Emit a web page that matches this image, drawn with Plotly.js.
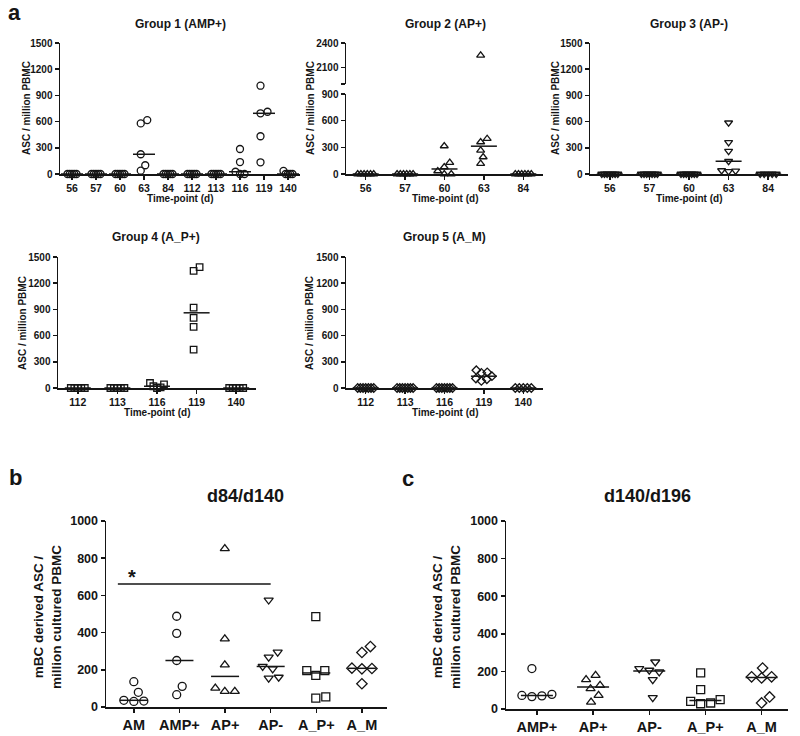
<!DOCTYPE html>
<html><head><meta charset="utf-8">
<script src="https://cdn.plot.ly/plotly-3.0.1.min.js"></script>
<style>html,body{margin:0;padding:0;background:#fff}#chart{width:800px;height:736px}</style>
</head><body><div id="chart"></div>
<script>
// ---------------- data ----------------
const g1Days = ['56','57','60','63','84','112','113','116','119','140'];
const g1Values = [
  [0,0,0,0,0],[0,0,0,0,0],[0,0,0,0,0],[38,100,226,579,617],[0,0,0,0,0],
  [0,0,0,0,0],[0,0,0,0,0],[0,0,26,137,286],[134,432,695,713,1011],[0,0,0,0,35]];
const g2Days = ['56','57','60','63','84'];
const g2Values = [[0,0,0,0,0,0],[0,0,0,0,0,0],[0,0,34,79,128,315],[116,191,266,360,397,2250],[0,0,0,0,0,0]];
const g3Days = ['56','57','60','63','84'];
const g3Values = [[0,0,0,0,0,0,0],[0,0,0,0,0,0,0],[0,0,0,0,0,0,0],[30,35,40,146,261,361,587],[0,0,0,0,0]];
const g4Days = ['112','113','116','119','140'];
const g4Values = [[0,0,0,0,0],[0,0,0,0,0],[0,8,20,42,57],[439,699,802,920,1340,1385],[0,0,0,0,0]];
const g5Days = ['112','113','116','119','140'];
const g5Values = [[0,0,0,0,0,0,0],[0,0,0,0,0,0,0],[0,0,0,0,0,0,0],[81,100,108,135,173,180,204],[0,0,0,0,0]];
const bCats = ['AM','AMP+','AP+','AP-','A_P+','A_M'];
const bValues = [[30,32,36,79,136],[66,111,250,396,488],[84,84,102,227,366,852],
  [155,160,205,218,268,295,575],[48,54,170,196,196,486],[125,205,207,209,293,325]];
const cCats = ['AMP+','AP+','AP-','A_P+','A_M'];
const cValues = [[66,70,72,78,215],[37,73,108,126,156,179],[60,156,197,206,215,250],
  [28,32,41,50,103,192],[32,64,165,171,171,218]];
const bSymbols = ['circle','circle','triangle-up','triangle-down','square','diamond'];
const cSymbols = ['circle','triangle-up','triangle-down','square','diamond'];

// ---------------- helpers ----------------
const W = 800, H = 736;
const FONT = 'Liberation Sans, Arial, sans-serif';
const INK = '#151515';
const dx = (a,b) => [a/W, b/W];
const dy = (top,bot) => [1-bot/H, 1-top/H];

function median(a){ const s=[...a].sort((p,q)=>p-q); const n=s.length; return n%2? s[(n-1)/2] : (s[n/2-1]+s[n/2])/2; }

function swarm(vals, pxPerY, spacing, maxHalf){
  const order = vals.map((v,i)=>i).sort((a,b)=>vals[a]-vals[b]);
  const placed=[]; const off=new Array(vals.length).fill(0);
  order.forEach(i=>{
    const y = vals[i]*pxPerY; let best=0;
    for(let k=0;k<400;k++){
      const c = k===0?0:(k%2===1?1:-1)*Math.ceil(k/2)*0.5;
      if(placed.every(p=>Math.hypot(p.x-c,p.y-y)>=spacing-1e-6)){best=c;break;}
    }
    off[i]=best; placed.push({x:best,y:y});
  });
  const mx=Math.max(...off), mn=Math.min(...off), sh=(mx+mn)/2;
  for(let i=0;i<off.length;i++) off[i]-=sh;
  const m=Math.max(...off.map(Math.abs));
  if(m>maxHalf){ const f=maxHalf/m; for(let i=0;i<off.length;i++) off[i]*=f; }
  return off;
}

const traces=[];
function addPanel(p){
  const xs=[], ys=[], syms=[], xsU=[], ysU=[], symsU=[];
  const mx=[], my=[];
  p.vals.forEach((vals,ci)=>{
    const off = swarm(vals, p.pxY, p.spacing, p.maxHalf);
    const sym = (Array.isArray(p.symbols)? p.symbols[ci] : p.symbols)+'-open';
    vals.forEach((v,j)=>{
      const x = ci + off[j]/p.pxCat;
      if(p.split && v>p.split.limit){ xsU.push(x); ysU.push(v); symsU.push(sym); }
      else { xs.push(x); ys.push(v); syms.push(sym); }
    });
    const m = median(vals), h = p.medHalfPx/p.pxCat;
    mx.push(ci-h, ci+h, null); my.push(m, m, null);
  });
  const mk = s=>({symbol:s, size:p.size, color:INK, line:{width:1.3, color:INK}});
  traces.push({type:'scatter',mode:'markers',x:xs,y:ys,xaxis:p.xa,yaxis:p.ya,marker:mk(syms),cliponaxis:false,hoverinfo:'skip'});
  if(xsU.length) traces.push({type:'scatter',mode:'markers',x:xsU,y:ysU,xaxis:p.xa,yaxis:p.split.ya,marker:mk(symsU),cliponaxis:false,hoverinfo:'skip'});
  traces.push({type:'scatter',mode:'lines',x:mx,y:my,xaxis:p.xa,yaxis:p.ya,line:{color:INK,width:1.5},cliponaxis:false,hoverinfo:'skip'});
}

// pixel geometry of each panel
const G1 = {x0:60,x1:300,y0:43,y1:174};
const G2 = {x0:346,x1:543,y0:94,y1:174, uy0:43, uy1:84};
const G3 = {x0:590,x1:788,y0:43,y1:174};
const G4 = {x0:58,x1:256,y0:257,y1:388};
const G5 = {x0:346,x1:543,y0:257,y1:388};
const PB = {x0:106,x1:387,y0:521,y1:707};
const PC = {x0:506,x1:788,y0:521,y1:709};
const bRange=[-0.61,5.55], cRange=[-0.55,4.47];

const grpY = 131/1500;
addPanel({vals:g1Values,symbols:'circle',xa:'x',ya:'y',pxCat:(G1.x1-G1.x0)/g1Days.length,pxY:grpY,spacing:7,maxHalf:4.5,size:7,medHalfPx:11});
addPanel({vals:g2Values,symbols:'triangle-up',xa:'x2',ya:'y2',pxCat:(G2.x1-G2.x0)/g2Days.length,pxY:80/900,spacing:7,maxHalf:8,size:7,medHalfPx:13,split:{limit:900,ya:'y3'}});
addPanel({vals:g3Values,symbols:'triangle-down',xa:'x3',ya:'y4',pxCat:(G3.x1-G3.x0)/g3Days.length,pxY:grpY,spacing:7,maxHalf:8,size:7,medHalfPx:13});
addPanel({vals:g4Values,symbols:'square',xa:'x4',ya:'y5',pxCat:(G4.x1-G4.x0)/g4Days.length,pxY:grpY,spacing:7,maxHalf:7,size:6.5,medHalfPx:13});
addPanel({vals:g5Values,symbols:'diamond',xa:'x5',ya:'y6',pxCat:(G5.x1-G5.x0)/g5Days.length,pxY:grpY,spacing:7,maxHalf:8,size:6.5,medHalfPx:13});
addPanel({vals:bValues,symbols:bSymbols,xa:'x6',ya:'y7',pxCat:(PB.x1-PB.x0)/(bRange[1]-bRange[0]),pxY:(PB.y1-PB.y0)/1000,spacing:10,maxHalf:14,size:8,medHalfPx:14});
addPanel({vals:cValues,symbols:cSymbols,xa:'x7',ya:'y8',pxCat:(PC.x1-PC.x0)/(cRange[1]-cRange[0]),pxY:(PC.y1-PC.y0)/1000,spacing:10,maxHalf:16,size:8,medHalfPx:16});

// ---------------- axes ----------------
function ax(extra, fs){
  return Object.assign({showline:true,linecolor:INK,linewidth:1.5,ticks:'outside',ticklen:4,tickwidth:1.5,tickcolor:INK,
    showgrid:false,zeroline:false,fixedrange:true,
    tickfont:{family:FONT,size:fs||10,color:INK,weight:700}}, extra);
}
function xax(G, cats, anchor, fs, range){
  return ax({domain:dx(G.x0,G.x1), anchor:anchor, range: range||[-0.5,cats.length-0.5], tickmode:'array',
    tickvals:cats.map((c,i)=>i), ticktext:cats}, fs);
}
const grpTicks=[0,300,600,900,1200,1500];
function yax(top,bot,anchor,range,tv,fs,tt){
  const o={domain:dy(top,bot),anchor:anchor,range:range,tickmode:'array',tickvals:tv};
  if(tt) o.ticktext=tt;
  return ax(o,fs);
}

const layout = {
  width:W, height:H, margin:{l:0,r:0,t:0,b:0}, showlegend:false,
  paper_bgcolor:'#fff', plot_bgcolor:'rgba(0,0,0,0)',
  font:{family:FONT,color:INK},
  xaxis: xax(G1,g1Days,'y',10.5),
  yaxis: yax(G1.y0,G1.y1,'x',[0,1500],grpTicks,10),
  xaxis2: xax(G2,g2Days,'y2',10.5),
  yaxis2: yax(G2.y0,G2.y1,'x2',[0,900],[0,300,600,900],10),
  yaxis3: yax(G2.uy0,G2.uy1,'x2',[1900,2400],[1900,2100,2400],10,['','2100','2400']),
  xaxis3: xax(G3,g3Days,'y4',10.5),
  yaxis4: yax(G3.y0,G3.y1,'x3',[0,1500],grpTicks,10),
  xaxis4: xax(G4,g4Days,'y5',10.5),
  yaxis5: yax(G4.y0,G4.y1,'x4',[0,1500],grpTicks,10),
  xaxis5: xax(G5,g5Days,'y6',10.5),
  yaxis6: yax(G5.y0,G5.y1,'x5',[0,1500],grpTicks,10),
  xaxis6: xax(PB,bCats,'y7',14.5,bRange),
  yaxis7: yax(PB.y0,PB.y1,'x6',[0,1000],[0,200,400,600,800,1000],12.5),
  xaxis7: xax(PC,cCats,'y8',14.5,cRange),
  yaxis8: yax(PC.y0,PC.y1,'x7',[0,1000],[0,200,400,600,800,1000],12.5),
  shapes:[
    {type:'line',xref:'x6',yref:'y7',x0:-0.35,x1:3.0,y0:661,y1:661,line:{color:INK,width:1.5}}
  ],
  annotations:[]
};

function A(text,x,y,size,extra){
  layout.annotations.push(Object.assign({text:text,x:x/W,y:1-y/H,xref:'paper',yref:'paper',showarrow:false,
    xanchor:'center',yanchor:'middle',font:{family:FONT,size:size,color:INK,weight:700}},extra||{}));
}
// panel letters
A('a',14,13,22); A('b',15,477,22); A('c',408,478,22);
// group titles
A('Group 1 (AMP+)',180,24,12); A('Group 2 (AP+)',445,24,12); A('Group 3 (AP-)',689,24,12);
A('Group 4 (A_P+)',156,237,12); A('Group 5 (A_M)',444,237,12);
// x titles
A('Time-point (d)',180,199,10); A('Time-point (d)',445,199,10); A('Time-point (d)',689,199,10);
A('Time-point (d)',157,412,10); A('Time-point (d)',445,412,10);
// y titles
const yt='ASC / million PBMC';
A(yt,27,108,10,{textangle:-90}); A(yt,311,108,10,{textangle:-90}); A(yt,556,108,10,{textangle:-90});
A(yt,23,323,10,{textangle:-90}); A(yt,310,323,10,{textangle:-90});
// panel b/c
A('d84/d140',245,496,18); A('d140/d196',647,496,18);
const yb='mBC derived ASC /<br>million cultured PBMC';
A(yb,47,617,13.5,{textangle:-90}); A(yb,446,617,13.5,{textangle:-90});
// significance star
layout.annotations.push({text:'*',xref:'x6',yref:'y7',x:-0.05,y:700,showarrow:false,xanchor:'center',yanchor:'middle',
  font:{family:FONT,size:20,color:INK,weight:700}});

Plotly.newPlot('chart',traces,layout,{displayModeBar:false,staticPlot:true});
</script></body></html>
